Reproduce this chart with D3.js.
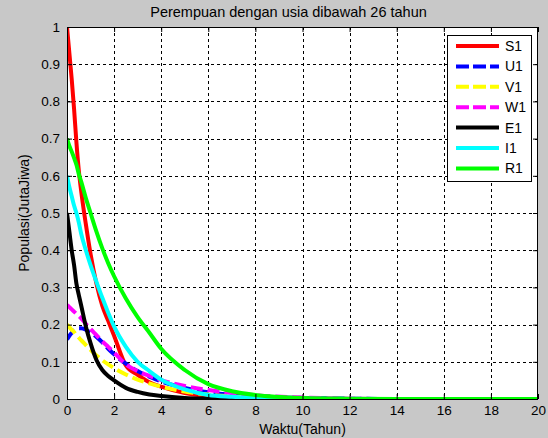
<!DOCTYPE html>
<html>
<head>
<meta charset="utf-8">
<script src="https://cdn.jsdelivr.net/npm/d3@7"></script>
<style>
  html, body { margin: 0; padding: 0; background: #c8c8c8; }
  svg { display: block; font-family: Arial, "Liberation Sans", sans-serif; }
</style>
</head>
<body>
<svg id="chart" width="548" height="438"></svg>
<script>
// Time points (years)
const tahun = [0, 0.1, 0.2, 0.3, 0.4, 0.5, 0.6, 0.8, 1.0, 1.25, 1.5, 1.75, 2, 2.5, 3, 3.5, 4, 5, 6, 7, 8, 10, 12, 14, 16, 18, 20];

// Population (million people) per compartment
const S1 = [1.0, 0.93, 0.86, 0.78, 0.69, 0.615, 0.56, 0.47, 0.39, 0.31, 0.25, 0.21, 0.17, 0.09, 0.065, 0.045, 0.033, 0.016, 0.008, 0.004, 0.002, 0.0005, 0, 0, 0, 0, 0];
const U1 = [0.16, 0.17, 0.178, 0.184, 0.188, 0.19, 0.19, 0.186, 0.178, 0.167, 0.152, 0.135, 0.12, 0.095, 0.075, 0.06, 0.047, 0.03, 0.018, 0.011, 0.007, 0.003, 0.001, 0, 0, 0, 0];
const V1 = [0.2, 0.193, 0.186, 0.18, 0.172, 0.165, 0.158, 0.145, 0.132, 0.117, 0.104, 0.093, 0.083, 0.066, 0.052, 0.042, 0.033, 0.02, 0.012, 0.007, 0.004, 0.001, 0, 0, 0, 0, 0];
const W1 = [0.253, 0.247, 0.241, 0.235, 0.229, 0.223, 0.217, 0.202, 0.188, 0.172, 0.155, 0.14, 0.125, 0.093, 0.075, 0.062, 0.051, 0.035, 0.024, 0.016, 0.01, 0.004, 0.001, 0, 0, 0, 0];
const E1 = [0.5, 0.45, 0.4, 0.36, 0.31, 0.28, 0.252, 0.195, 0.15, 0.105, 0.078, 0.062, 0.05, 0.03, 0.019, 0.012, 0.008, 0.003, 0.001, 0, 0, 0, 0, 0, 0, 0, 0];
const I1 = [0.6, 0.57, 0.545, 0.52, 0.5, 0.475, 0.445, 0.4, 0.36, 0.315, 0.272, 0.232, 0.195, 0.14, 0.1, 0.075, 0.052, 0.026, 0.011, 0.006, 0.003, 0.001, 0, 0, 0, 0, 0];
const R1 = [0.7, 0.68, 0.665, 0.648, 0.63, 0.605, 0.585, 0.54, 0.5, 0.45, 0.405, 0.365, 0.33, 0.27, 0.22, 0.178, 0.135, 0.078, 0.04, 0.021, 0.011, 0.003, 0.001, 0, 0, 0, 0];

const seriesNames = ["S1", "U1", "V1", "W1", "E1", "I1", "R1"];
const seriesValues = [S1, U1, V1, W1, E1, I1, R1];
const seriesColors = ["#ff0000", "#0000ff", "#ffff00", "#ff00ff", "#000000", "#00ffff", "#00ff00"];
const seriesDashed = [false, true, true, true, false, false, false];

const xTicks = [0, 2, 4, 6, 8, 10, 12, 14, 16, 18, 20];
const yTicks = [0, 0.1, 0.2, 0.3, 0.4, 0.5, 0.6, 0.7, 0.8, 0.9, 1];

const svg = d3.select("#chart");
const pLeft = 67, pRight = 538, pTop = 27, pBottom = 399;

const x = d3.scaleLinear().domain([0, 20]).range([pLeft, pRight]);
const y = d3.scaleLinear().domain([0, 1]).range([pBottom, pTop]);

// Title
svg.append("text")
  .attr("x", (pLeft + pRight) / 2 - 14).attr("y", 17)
  .attr("text-anchor", "middle")
  .attr("font-size", 14.5).attr("fill", "#000")
  .text("Perempuan dengan usia dibawah 26 tahun");

// Plot area
svg.append("rect")
  .attr("x", pLeft).attr("y", pTop)
  .attr("width", pRight - pLeft).attr("height", pBottom - pTop)
  .attr("fill", "#fff");

// Dashed grid
const grid = svg.append("g").attr("stroke", "#000").attr("stroke-width", 1).attr("stroke-dasharray", "3,3");
grid.selectAll("line.gx").data(xTicks.slice(1, -1)).join("line")
  .attr("x1", d => Math.round(x(d)) + 0.5).attr("x2", d => Math.round(x(d)) + 0.5)
  .attr("y1", pTop).attr("y2", pBottom);
grid.selectAll("line.gy").data(yTicks.slice(1, -1)).join("line")
  .attr("y1", d => Math.round(y(d)) + 0.5).attr("y2", d => Math.round(y(d)) + 0.5)
  .attr("x1", pLeft).attr("x2", pRight);

// Clip for the data lines
svg.append("defs").append("clipPath").attr("id", "plotClip")
  .append("rect").attr("x", pLeft).attr("y", pTop)
  .attr("width", pRight - pLeft).attr("height", pBottom - pTop);

const line = d3.line()
  .x((d, i) => x(tahun[i]))
  .y(d => y(d))
  .curve(d3.curveMonotoneX);

const lines = svg.append("g").attr("clip-path", "url(#plotClip)");
seriesValues.forEach((vals, k) => {
  lines.append("path")
    .datum(vals)
    .attr("d", line)
    .attr("fill", "none")
    .attr("stroke", seriesColors[k])
    .attr("stroke-width", 4)
    .attr("stroke-dasharray", seriesDashed[k] ? "12,5" : null);
});

// Axes (ticks pointing inwards, mirrored on top/right)
const xAxis = d3.axisBottom(x).tickValues(xTicks).tickSize(-5).tickPadding(6).tickFormat(d3.format("d"));
const yAxis = d3.axisLeft(y).tickValues(yTicks).tickSize(-5).tickPadding(7).tickFormat(d => d === 0 || d === 1 ? d3.format("d")(d) : d3.format(".1f")(d));

const gx = svg.append("g").attr("transform", `translate(0,${pBottom})`).call(xAxis);
const gy = svg.append("g").attr("transform", `translate(${pLeft},0)`).call(yAxis);
const gxTop = svg.append("g").attr("transform", `translate(0,${pTop})`)
  .call(d3.axisTop(x).tickValues(xTicks).tickSize(-5).tickFormat(""));
const gyRight = svg.append("g").attr("transform", `translate(${pRight},0)`)
  .call(d3.axisRight(y).tickValues(yTicks).tickSize(-5).tickFormat(""));

[gx, gy, gxTop, gyRight].forEach(g => {
  g.select(".domain").remove();
  g.selectAll(".tick line").attr("stroke", "#000");
  g.selectAll(".tick text").attr("fill", "#000").attr("font-size", 13.5)
    .attr("font-family", "Arial, 'Liberation Sans', sans-serif");
});

// Frame
svg.append("rect")
  .attr("x", pLeft + 0.5).attr("y", pTop + 0.5)
  .attr("width", pRight - pLeft - 1).attr("height", pBottom - pTop)
  .attr("fill", "none").attr("stroke", "#000").attr("stroke-width", 1);

// Axis labels
svg.append("text")
  .attr("x", (pLeft + pRight) / 2).attr("y", 434)
  .attr("text-anchor", "middle").attr("font-size", 14)
  .text("Waktu(Tahun)");
svg.append("text")
  .attr("transform", `translate(29,${(pTop + pBottom) / 2}) rotate(-90)`)
  .attr("text-anchor", "middle").attr("font-size", 14)
  .text("Populasi(JutaJiwa)");

// Legend
const lgX = 447.5, lgY = 35.5, lgW = 84, lgH = 146, rowH = 20.4;
const legend = svg.append("g");
legend.append("rect")
  .attr("x", lgX).attr("y", lgY).attr("width", lgW).attr("height", lgH)
  .attr("fill", "#fff").attr("stroke", "#000").attr("stroke-width", 1);
seriesNames.forEach((name, k) => {
  const cy = 46 + k * rowH;
  legend.append("line")
    .attr("x1", 456).attr("x2", 499).attr("y1", cy).attr("y2", cy)
    .attr("stroke", seriesColors[k]).attr("stroke-width", 4)
    .attr("stroke-dasharray", seriesDashed[k] ? "13,4" : null);
  legend.append("text")
    .attr("x", 505).attr("y", cy + 5)
    .attr("font-size", 14).attr("fill", "#000")
    .text(name);
});
</script>
</body>
</html>
